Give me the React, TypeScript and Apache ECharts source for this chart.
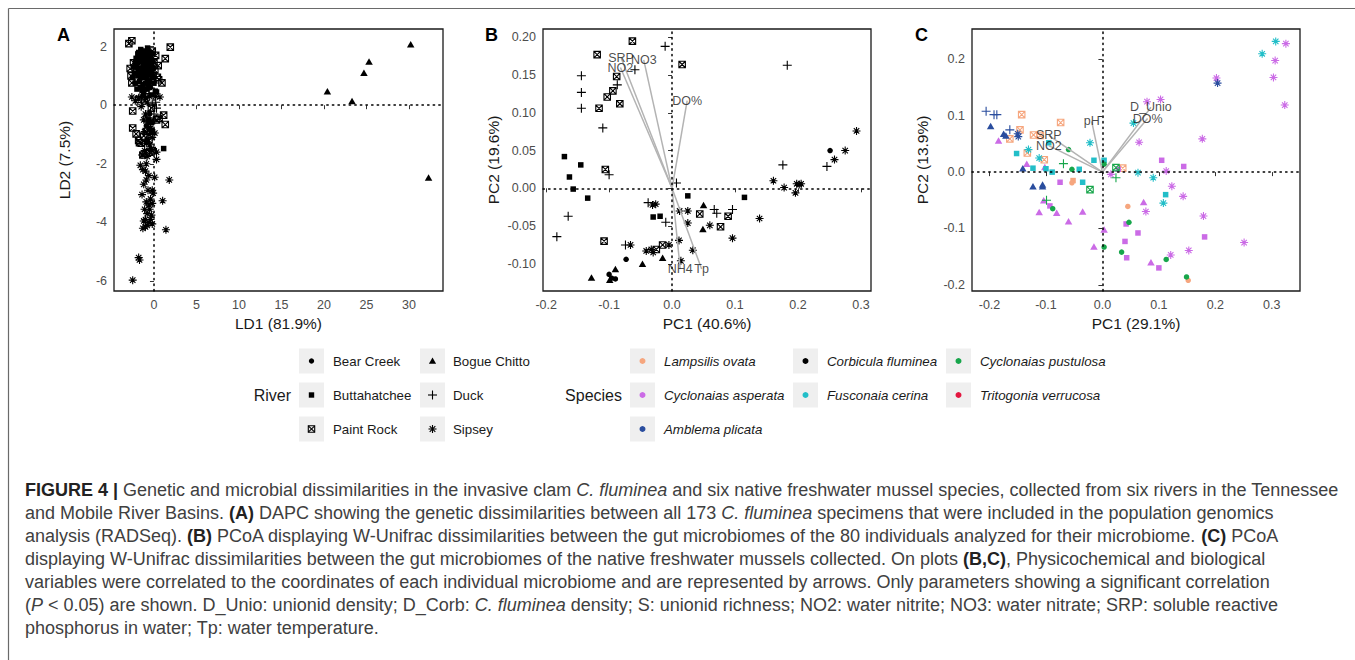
import React, { useEffect, useRef } from "react";
import * as echarts from "echarts";

const FONT = "'Liberation Sans', Arial, Helvetica, sans-serif";
const CAP_FONT = "'Liberation Sans', Arial, Helvetica, sans-serif";

// ---------- legend / categories ----------
const riverNames = ["Bear Creek", "Bogue Chitto", "Buttahatchee", "Duck", "Paint Rock", "Sipsey"];
const riverShapes = ["circle", "triangle", "square", "plus", "boxX", "asterisk"];
const speciesNames = [
  "Lampsilis ovata",
  "Cyclonaias asperata",
  "Amblema plicata",
  "Corbicula fluminea",
  "Fusconaia cerina",
  "Cyclonaias pustulosa",
  "Tritogonia verrucosa",
];
const speciesColors = ["#F6A67E", "#CB6BE6", "#2A4D9E", "#000000", "#22BEC8", "#17A64B", "#E3163F"];

// ---------- panel A (DAPC) ----------
const aXTicks = [0, 5, 10, 15, 20, 25, 30];
const aYTicks = [-6, -4, -2, 0, 2];
const aBearCreek = [[-1.1, 1.4], [-0.8, 1.1], [-1.6, 0.9], [-0.4, 0.6], [-1.2, 0.4], [-0.5, -0.3], [-0.9, -0.7]];
const aBogueChitto = [[20.4, 0.48], [23.3, 0.14], [24.7, 1.11], [25.3, 1.49], [30.2, 2.08], [32.3, -2.47]];
const aButtahatchee = [
  [-1.8, 1.8], [-1.5, 1.85], [-1.2, 1.8], [-0.9, 1.85], [-0.6, 1.8], [-1.7, 1.5], [-1.4, 1.55], [-1.1, 1.6],
  [-0.8, 1.5], [-0.5, 1.55], [-0.3, 1.4], [-2.0, 1.3], [-1.6, 1.25], [-1.3, 1.3], [-1.0, 1.2], [-0.7, 1.3],
  [-0.4, 1.2], [-2.3, 1.1], [-1.9, 1.0], [-1.5, 1.05], [-1.2, 0.95], [-0.9, 1.0], [-0.6, 1.05], [-0.2, 0.95],
  [-2.2, 0.75], [-1.7, 0.8], [-1.3, 0.7], [-1.0, 0.75], [-0.5, 0.8], [-1.4, 0.5], [-0.8, 0.55], [0.3, 0.45],
  [0.16, 0.48], [-0.3, 0.35], [-0.6, -0.5], [-0.3, -0.6], [-0.5, -0.8], [-0.2, -0.9], [-0.8, -1.2], [1.14, -1.48],
  [-1.0, 1.65], [-0.7, 1.7], [-1.25, 1.45], [-0.95, 1.35], [-2.1, 1.6], [-1.9, 1.75], [-1.6, 1.65], [-1.3, 1.7],
  [-0.4, 1.65], [-0.2, 1.75], [-2.4, 1.3], [-1.8, 1.15], [-1.1, 1.05], [-0.8, 0.85], [-0.3, 1.05], [-2.0, 0.55],
  [-1.6, 0.6], [-1.1, 0.55], [-0.6, 0.65], [0.0, 0.75], [-1.9, 1.45], [-0.5, 1.35], [-1.45, 1.15], [-2.5, 0.95],
  [-0.1, 1.25], [-1.2, 0.35], [-1.55, 1.9], [-0.75, 1.95], [-2.2, 1.45], [-0.15, 1.5],
];
const aDuck = [[-0.4, -0.2], [0.0, -0.3], [-0.2, 0.05], [0.3, -0.1], [-0.6, 0.4], [0.1, -0.5], [-0.9, -0.4], [0.2, 0.1]];
const aPaintRock = [
  [-2.95, 2.1], [-2.6, 2.2], [1.92, 1.98], [1.33, 1.59], [-2.6, 0.76], [0.55, 0.87], [0.94, 0.76], [-2.8, 1.25],
  [-2.4, 1.45], [0.2, 1.7], [0.0, 1.45], [0.1, 1.2], [-0.1, 1.0], [0.4, 0.95], [-2.5, -0.2], [1.14, -0.34],
  [1.33, -0.66], [-2.5, -0.78], [-2.1, -0.98], [-1.8, -1.2], [-1.5, -1.3], [-1.2, -1.05], [-0.4, -0.55], [0.6, -0.45],
  [-0.6, -1.2], [-1.3, -1.7], [-0.9, -1.65], [-0.5, -1.6], [-0.2, -1.55], [-1.7, -1.28], [0.3, -0.5], [-0.3, -0.1],
  [-1.1, 0.15], [-1.8, 0.2], [-0.2, 1.85], [-2.7, 1.0], [0.5, 1.35], [-0.9, -0.9],
];
const aSipsey = [
  [-2.6, 0.28], [-2.2, 0.15], [-1.8, 0.25], [-1.4, 0.3], [-1.0, 0.25], [-0.5, 0.3], [0.2, 0.3], [0.7, 0.28],
  [-0.8, 0.1], [-1.5, -0.05], [-1.0, -0.3], [-0.7, -0.6], [-1.1, -0.9], [-0.6, -1.0], [-0.2, -1.1], [0.1, -0.95],
  [-1.4, -1.7], [-0.8, -1.75], [-0.3, -1.5], [0.3, -1.85], [-1.6, -2.05], [-1.3, -2.2], [-1.0, -2.25], [0.08, -2.46],
  [1.8, -2.55], [-1.2, -2.7], [-1.4, -3.05], [-0.2, -2.9], [-0.1, -3.0], [-0.4, -3.2], [-0.2, -3.35], [1.02, -3.26],
  [-0.5, -3.55], [-0.8, -3.7], [-0.3, -3.75], [-1.0, -3.9], [-0.6, -4.0], [-0.2, -4.05], [-1.3, -4.2], [-1.0, -4.15],
  [1.41, -4.25], [-1.8, -5.2], [-1.7, -5.28], [-2.5, -5.97], [-0.9, -2.0], [0.3, -1.6], [-1.2, -0.5], [-0.4, -0.8],
  [-0.9, -1.3], [-0.5, -1.35], [-1.1, -1.55], [-0.6, -2.4], [-0.9, -2.55], [-0.7, -2.9], [-0.9, -3.3], [-0.6, -3.4],
  [-1.1, -3.55], [-0.4, -3.9], [-1.2, -3.95], [-0.8, -4.1],
];

// ---------- panel B (PCoA, C. fluminea) ----------
const bXTicks = [-0.2, -0.1, 0.0, 0.1, 0.2, 0.3];
const bYTicks = [-0.1, -0.05, 0.0, 0.05, 0.1, 0.15, 0.2];
const bBearCreek = [[-0.073, -0.094], [-0.1, -0.114], [-0.096, -0.119], [-0.09, -0.12], [0.251, 0.05]];
const bBogueChitto = [[-0.128, -0.118], [-0.099, -0.121], [-0.09, -0.107], [-0.047, -0.1], [-0.015, -0.092], [0.05, -0.022], [0.049, -0.054]];
const bButtahatchee = [[-0.171, 0.042], [-0.145, 0.031], [-0.163, 0.015], [-0.157, -0.001], [-0.134, -0.013], [-0.03, -0.038], [-0.019, -0.037], [0.025, -0.01], [0.115, -0.012]];
const bDuck = [
  [-0.011, 0.188], [0.183, 0.163], [-0.059, 0.157], [-0.087, 0.137], [-0.144, 0.149], [-0.144, 0.127], [-0.144, 0.106],
  [-0.11, 0.08], [-0.1, 0.018], [-0.165, -0.037], [-0.183, -0.064], [0.007, 0.007], [-0.038, -0.019], [-0.01, -0.045],
  [0.067, -0.028], [0.071, -0.033], [0.096, -0.028], [0.176, 0.031], [0.246, 0.029], [-0.074, -0.075],
];
const bPaintRock = [
  [-0.063, 0.195], [-0.119, 0.177], [0.016, 0.164], [-0.088, 0.148], [-0.094, 0.129], [-0.103, 0.121], [-0.083, 0.112],
  [-0.116, 0.106], [-0.106, 0.025], [-0.108, -0.07], [-0.025, -0.081], [-0.015, -0.075], [0.044, -0.034], [0.077, -0.051], [0.089, -0.037],
];
const bSipsey = [
  [-0.026, -0.021], [-0.031, -0.022], [0.012, -0.03], [0.025, -0.03], [0.025, -0.046], [0.06, -0.049], [0.096, -0.066],
  [0.139, -0.04], [0.161, 0.01], [0.178, 0.001], [0.196, -0.006], [0.198, 0.006], [0.202, 0.005], [0.205, 0.006],
  [0.258, 0.038], [0.275, 0.05], [0.293, 0.076], [-0.066, -0.075], [-0.041, -0.083], [-0.03, -0.085], [-0.033, -0.081],
  [-0.005, -0.075], [0.011, -0.069], [0.033, -0.082], [0.014, -0.096],
];
const bVectors = [
  { name: "SRP", x: -0.081, y: 0.173 },
  { name: "NO3", x: -0.045, y: 0.17 },
  { name: "NO2", x: -0.082, y: 0.16 },
  { name: "DO%", x: 0.024, y: 0.116 },
  { name: "NH4", x: 0.013, y: -0.107 },
  { name: "Tp", x: 0.047, y: -0.107 },
];

// ---------- panel C (PCoA, native mussels) ----------
const cXTicks = [-0.2, -0.1, 0.0, 0.1, 0.2, 0.3];
const cYTicks = [-0.2, -0.1, 0.0, 0.1, 0.2];
const cLampsilis = [
  [-0.143, 0.102, "boxX"], [-0.074, 0.088, "boxX"], [-0.146, 0.075, "boxX"], [-0.122, 0.066, "boxX"], [-0.11, 0.065, "boxX"],
  [-0.164, 0.059, "boxX"], [-0.133, 0.034, "boxX"], [-0.103, 0.022, "boxX"], [0.036, 0.007, "boxX"], [-0.052, -0.015, "square"],
  [-0.054, -0.019, "circle"], [0.045, -0.061, "circle"], [0.152, -0.192, "circle"],
];
const cAsperata = [
  [-0.184, 0.056, "triangle"], [-0.134, 0.015, "triangle"], [-0.102, 0.009, "triangle"], [-0.104, -0.05, "triangle"],
  [-0.093, -0.06, "square"], [-0.112, -0.071, "triangle"], [-0.081, -0.072, "triangle"], [-0.06, -0.087, "triangle"],
  [-0.035, -0.07, "triangle"], [-0.075, -0.018, "square"], [0.003, -0.102, "triangle"], [-0.015, -0.132, "triangle"],
  [0.042, -0.092, "square"], [0.04, -0.123, "square"], [0.043, -0.152, "square"], [0.063, -0.108, "square"],
  [0.073, -0.053, "triangle"], [0.086, -0.16, "triangle"], [0.1, -0.17, "square"], [0.105, 0.021, "square"],
  [0.144, 0.01, "square"], [0.181, -0.115, "square"], [0.028, 0.005, "square"], [0.015, -0.004, "asterisk"],
  [0.079, 0.125, "asterisk"], [0.103, 0.129, "asterisk"], [0.065, 0.053, "asterisk"], [0.113, 0.002, "asterisk"],
  [0.123, -0.025, "asterisk"], [0.143, -0.043, "asterisk"], [0.077, -0.07, "asterisk"], [0.179, -0.078, "asterisk"],
  [0.121, -0.147, "asterisk"], [0.153, -0.139, "asterisk"], [0.251, -0.125, "asterisk"], [0.177, 0.059, "asterisk"],
  [0.202, 0.167, "asterisk"], [0.325, 0.228, "asterisk"], [0.306, 0.198, "asterisk"], [0.303, 0.168, "asterisk"],
  [0.323, 0.119, "asterisk"],
];
const cAmblema = [
  [-0.206, 0.108, "plus"], [-0.192, 0.102, "plus"], [-0.187, 0.102, "plus"], [-0.164, 0.075, "plus"],
  [-0.198, 0.082, "triangle"], [-0.175, 0.068, "triangle"], [-0.171, 0.065, "triangle"], [-0.15, 0.068, "asterisk"],
  [-0.149, 0.063, "asterisk"], [-0.141, 0.007, "triangle"], [-0.123, -0.025, "triangle"], [-0.106, -0.022, "triangle"],
  [-0.106, -0.025, "triangle"], [0.204, 0.158, "asterisk"],
];
const cFusconaia = [
  [-0.152, 0.033, "square"], [-0.123, 0.007, "square"], [-0.1, 0.006, "square"], [-0.089, 0.0, "square"],
  [-0.041, 0.005, "square"], [-0.035, -0.018, "square"], [-0.015, 0.021, "square"], [0.003, 0.021, "square"],
  [0.112, -0.04, "square"], [-0.095, 0.052, "square"], [-0.131, 0.04, "asterisk"], [-0.112, 0.025, "asterisk"],
  [-0.022, 0.052, "asterisk"], [0.055, 0.087, "asterisk"], [0.063, -0.001, "asterisk"], [0.09, -0.01, "asterisk"],
  [0.108, -0.055, "asterisk"], [0.283, 0.21, "asterisk"], [0.307, 0.232, "asterisk"],
];
const cPustulosa = [
  [-0.06, 0.04, "circle"], [-0.069, 0.015, "plus"], [-0.054, 0.005, "circle"], [-0.022, -0.031, "boxX"],
  [0.024, 0.008, "boxX"], [0.024, -0.01, "plus"], [0.003, 0.014, "circle"], [-0.099, -0.05, "plus"],
  [-0.088, -0.065, "circle"], [0.003, -0.133, "circle"], [0.034, -0.142, "circle"], [0.047, -0.089, "circle"],
  [0.113, -0.155, "circle"], [0.149, -0.186, "circle"],
];
const cVectors = [
  { name: "pH", x: -0.019, y: 0.09 },
  { name: "D_Unio", x: 0.086, y: 0.115 },
  { name: "DO%", x: 0.08, y: 0.095 },
  { name: "SRP", x: -0.095, y: 0.065 },
  { name: "NO2", x: -0.095, y: 0.047 },
];

// ---------- caption ----------
const captionLines = [
  "{b|FIGURE 4 |} Genetic and microbial dissimilarities in the invasive clam {i|C. fluminea} and six native freshwater mussel species, collected from six rivers in the Tennessee",
  "and Mobile River Basins. {b|(A)} DAPC showing the genetic dissimilarities between all 173 {i|C. fluminea} specimens that were included in the population genomics",
  "analysis (RADSeq). {b|(B)} PCoA displaying W-Unifrac dissimilarities between the gut microbiomes of the 80 individuals analyzed for their microbiome. {b|(C)} PCoA",
  "displaying W-Unifrac dissimilarities between the gut microbiomes of the native freshwater mussels collected. On plots {b|(B,C)}, Physicochemical and biological",
  "variables were correlated to the coordinates of each individual microbiome and are represented by arrows. Only parameters showing a significant correlation",
  "({i|P} < 0.05) are shown. D_Unio: unionid density; D_Corb: {i|C. fluminea} density; S: unionid richness; NO2: water nitrite; NO3: water nitrate; SRP: soluble reactive",
  "phosphorus in water; Tp: water temperature.",
];

// ---------- symbols ----------
const SHAPES: any = {
  circle: { symbol: "circle", size: 5.5, filled: true },
  triangle: { symbol: "triangle", size: [7.5, 6.5], filled: true },
  square: { symbol: "rect", size: 5.5, filled: true },
  plus: { symbol: "path://M5 0L5 10M0 5L10 5", size: 9, filled: false },
  boxX: { symbol: "path://M0 0L10 0L10 10L0 10ZM0 0L10 10M10 0L0 10", size: 6.5, filled: false },
  asterisk: { symbol: "path://M5 0L5 10M0 5L10 5M1.6 1.6L8.4 8.4M1.6 8.4L8.4 1.6", size: 8, filled: false },
};

function itemFor(shape: string, color: string) {
  return SHAPES[shape].filled
    ? { color, borderWidth: 0, opacity: 1 }
    : { color: "rgba(0,0,0,0)", borderColor: color, borderWidth: 1.1, opacity: 1 };
}

function riverSeries(g: number, arr: number[][], shape: string) {
  const s = SHAPES[shape];
  return {
    type: "scatter",
    xAxisIndex: g,
    yAxisIndex: g,
    data: arr,
    symbol: s.symbol,
    symbolSize: s.size,
    itemStyle: itemFor(shape, "#000"),
    silent: true,
    z: 3,
  };
}

function speciesSeries(g: number, arr: any[], color: string) {
  return {
    type: "scatter",
    xAxisIndex: g,
    yAxisIndex: g,
    data: arr.map((p) => ({
      value: [p[0], p[1]],
      symbol: SHAPES[p[2]].symbol,
      symbolSize: SHAPES[p[2]].size,
      itemStyle: itemFor(p[2], color),
    })),
    silent: true,
    z: 3,
  };
}

function zeroLines(g: number) {
  return {
    type: "scatter",
    xAxisIndex: g,
    yAxisIndex: g,
    data: [],
    silent: true,
    z: 2,
    markLine: {
      silent: true,
      symbol: ["none", "none"],
      label: { show: false },
      lineStyle: { color: "#000", type: [1.4, 4.2], width: 1.5, cap: "round" },
      data: [{ xAxis: 0 }, { yAxis: 0 }],
      animation: false,
    },
  };
}

function vectorSeries(g: number, vecs: any[]) {
  return [
    {
      type: "lines",
      coordinateSystem: "cartesian2d",
      xAxisIndex: g,
      yAxisIndex: g,
      polyline: false,
      data: vecs.map((v) => ({ coords: [[0, 0], [v.x, v.y]] })),
      lineStyle: { color: "#b3b3b3", width: 1.5, opacity: 1, curveness: 0 },
      symbol: ["none", "none"],
      silent: true,
      z: 4,
    },
    {
      type: "scatter",
      xAxisIndex: g,
      yAxisIndex: g,
      data: vecs.map((v) => ({ name: v.name, value: [v.x, v.y] })),
      symbolSize: 1,
      itemStyle: { color: "rgba(0,0,0,0)" },
      label: {
        show: true,
        position: "inside",
        formatter: "{b}",
        color: "#1a1a1a",
        fontSize: 12.5,
        fontFamily: FONT,
      },
      silent: true,
      z: 5,
    },
  ];
}

function xAxisCfg(g: number, min: number, max: number, ticks: number[], fmt: (v: number) => string, name: string) {
  return {
    type: "value",
    gridIndex: g,
    min,
    max,
    name,
    nameLocation: "middle",
    nameGap: 24,
    nameTextStyle: { fontSize: 15.5, color: "#1a1a1a", fontFamily: FONT },
    axisLine: { show: false },
    axisTick: { show: true, customValues: ticks, length: 4, lineStyle: { color: "#333", width: 1 } },
    axisLabel: { customValues: ticks, formatter: fmt, color: "#4d4d4d", fontSize: 12.5, fontFamily: FONT, margin: 7 },
    splitLine: { show: false },
  };
}

function yAxisCfg(g: number, min: number, max: number, ticks: number[], fmt: (v: number) => string, name: string) {
  return {
    type: "value",
    gridIndex: g,
    min,
    max,
    name,
    nameLocation: "middle",
    nameGap: 42,
    nameTextStyle: { fontSize: 15.5, color: "#1a1a1a", fontFamily: FONT },
    axisLine: { show: false },
    axisTick: { show: true, customValues: ticks, length: 4, lineStyle: { color: "#333", width: 1 } },
    axisLabel: { customValues: ticks, formatter: fmt, color: "#4d4d4d", fontSize: 12.5, fontFamily: FONT, margin: 7 },
    splitLine: { show: false },
  };
}

function keySymbol(shape: string, cx: number, cy: number, color: string): any[] {
  const st = { stroke: color, lineWidth: 1.1 };
  switch (shape) {
    case "circle":
      return [{ type: "circle", shape: { cx, cy, r: 2.7 }, style: { fill: color } }];
    case "triangle":
      return [{ type: "polygon", shape: { points: [[cx, cy - 3.4], [cx + 3.6, cy + 2.8], [cx - 3.6, cy + 2.8]] }, style: { fill: color } }];
    case "square":
      return [{ type: "rect", shape: { x: cx - 2.7, y: cy - 2.7, width: 5.4, height: 5.4 }, style: { fill: color } }];
    case "plus":
      return [
        { type: "line", shape: { x1: cx - 4.5, y1: cy, x2: cx + 4.5, y2: cy }, style: st },
        { type: "line", shape: { x1: cx, y1: cy - 4.5, x2: cx, y2: cy + 4.5 }, style: st },
      ];
    case "boxX":
      return [
        { type: "rect", shape: { x: cx - 3.2, y: cy - 3.2, width: 6.4, height: 6.4 }, style: { ...st, fill: "none" } },
        { type: "line", shape: { x1: cx - 3.2, y1: cy - 3.2, x2: cx + 3.2, y2: cy + 3.2 }, style: st },
        { type: "line", shape: { x1: cx + 3.2, y1: cy - 3.2, x2: cx - 3.2, y2: cy + 3.2 }, style: st },
      ];
    default:
      return [
        { type: "line", shape: { x1: cx - 4, y1: cy, x2: cx + 4, y2: cy }, style: st },
        { type: "line", shape: { x1: cx, y1: cy - 4, x2: cx, y2: cy + 4 }, style: st },
        { type: "line", shape: { x1: cx - 2.8, y1: cy - 2.8, x2: cx + 2.8, y2: cy + 2.8 }, style: st },
        { type: "line", shape: { x1: cx + 2.8, y1: cy - 2.8, x2: cx - 2.8, y2: cy + 2.8 }, style: st },
      ];
  }
}

function buildGraphics() {
  const els: any[] = [];
  // figure frame (top + left)
  els.push({ type: "line", shape: { x1: 8.5, y1: 8.5, x2: 1355, y2: 8.5 }, style: { stroke: "#6a6a6a", lineWidth: 1.2 } });
  els.push({ type: "line", shape: { x1: 8.5, y1: 8.5, x2: 8.5, y2: 660 }, style: { stroke: "#6a6a6a", lineWidth: 1.2 } });
  // panel letters
  [["A", 57], ["B", 485], ["C", 915]].forEach(([t, x]) => {
    els.push({
      type: "text",
      x: x as number,
      y: 35,
      style: { text: t as string, fontSize: 18, fontWeight: "bold", fontFamily: FONT, fill: "#000", verticalAlign: "middle", align: "left" },
    });
  });
  const rowY = [361, 395, 429];
  const textStyle = { fontSize: 13.3, fontFamily: FONT, fill: "#1a1a1a", verticalAlign: "middle", align: "left" };
  // River legend
  els.push({ type: "text", x: 291, y: 395, style: { text: "River", fontSize: 16, fontFamily: FONT, fill: "#1a1a1a", verticalAlign: "middle", align: "right" } });
  const rKeyX = [299, 420];
  const rLabX = [333, 453];
  riverNames.forEach((n, i) => {
    const row = Math.floor(i / 2);
    const col = i % 2;
    const kx = rKeyX[col];
    const cy = rowY[row];
    els.push({ type: "rect", shape: { x: kx, y: cy - 12.5, width: 25, height: 25 }, style: { fill: "#efefef" } });
    keySymbol(riverShapes[i], kx + 12.5, cy, "#000").forEach((e) => els.push(e));
    els.push({ type: "text", x: rLabX[col], y: cy, style: { ...textStyle, text: n } });
  });
  // Species legend (column, row) of each entry
  els.push({ type: "text", x: 622, y: 395, style: { text: "Species", fontSize: 16, fontFamily: FONT, fill: "#1a1a1a", verticalAlign: "middle", align: "right" } });
  const sKeyX = [630, 793, 946];
  const sLabX = [664, 827, 980];
  const sCol = [0, 0, 0, 1, 1, 2, 2];
  const sRow = [0, 1, 2, 0, 1, 0, 1];
  speciesNames.forEach((n, i) => {
    const col = sCol[i];
    const row = sRow[i];
    const kx = sKeyX[col];
    const cy = rowY[row];
    els.push({ type: "rect", shape: { x: kx, y: cy - 12.5, width: 25, height: 25 }, style: { fill: "#efefef" } });
    els.push({ type: "circle", shape: { cx: kx + 12.5, cy, r: 3 }, style: { fill: speciesColors[i] } });
    els.push({ type: "text", x: sLabX[col], y: cy, style: { ...textStyle, text: n, fontStyle: "italic" } });
  });
  // caption
  const capFs = 18;
  const capFill = "#404040";
  captionLines.forEach((line, k) => {
    els.push({
      type: "text",
      x: 25,
      y: 490 + k * 23,
      style: {
        text: line,
        fontSize: capFs,
        fontFamily: CAP_FONT,
        fill: capFill,
        verticalAlign: "middle",
        align: "left",
        rich: {
          b: { fontSize: capFs, fontFamily: CAP_FONT, fill: "#222", fontWeight: "bold" },
          i: { fontSize: capFs, fontFamily: CAP_FONT, fill: capFill, fontStyle: "italic" },
        },
      },
    });
  });
  return els;
}

function buildOption() {
  const gridBase = { show: true, borderColor: "#1a1a1a", borderWidth: 1.3, backgroundColor: "#fff", containLabel: false, outerBoundsMode: "none" };
  const series: any[] = [];
  series.push(zeroLines(0), zeroLines(1), zeroLines(2));
  // Panel A
  const aData = [aBearCreek, aBogueChitto, aButtahatchee, aDuck, aPaintRock, aSipsey];
  [5, 4, 3, 0, 2, 1].forEach((i) => series.push(riverSeries(0, aData[i], riverShapes[i])));
  // Panel B
  const bData = [bBearCreek, bBogueChitto, bButtahatchee, bDuck, bPaintRock, bSipsey];
  [5, 4, 3, 2, 1, 0].forEach((i) => series.push(riverSeries(1, bData[i], riverShapes[i])));
  vectorSeries(1, bVectors).forEach((s) => series.push(s));
  // Panel C
  const cData = [cLampsilis, cAsperata, cAmblema, cFusconaia, cPustulosa];
  const cColorIdx = [0, 1, 2, 4, 5];
  cData.forEach((arr, k) => series.push(speciesSeries(2, arr, speciesColors[cColorIdx[k]])));
  vectorSeries(2, cVectors).forEach((s) => series.push(s));

  const f0 = (v: number) => String(Math.round(v));
  const f1 = (v: number) => (Math.abs(v) < 1e-9 ? 0 : v).toFixed(1);
  const f2 = (v: number) => (Math.abs(v) < 1e-9 ? 0 : v).toFixed(2);

  return {
    animation: false,
    backgroundColor: "#fff",
    textStyle: { fontFamily: FONT },
    grid: [
      { ...gridBase, left: 114, top: 29, width: 329, height: 262 },
      { ...gridBase, left: 543, top: 29, width: 328, height: 262 },
      { ...gridBase, left: 972, top: 29, width: 328, height: 262 },
    ],
    xAxis: [
      xAxisCfg(0, -4.7, 34.0, aXTicks, f0, "LD1 (81.9%)"),
      xAxisCfg(1, -0.205, 0.316, bXTicks, f1, "PC1 (40.6%)"),
      xAxisCfg(2, -0.231, 0.35, cXTicks, f1, "PC1 (29.1%)"),
    ],
    yAxis: [
      yAxisCfg(0, -6.34, 2.6, aYTicks, f0, "LD2 (7.5%)"),
      yAxisCfg(1, -0.136, 0.211, bYTicks, f2, "PC2 (19.6%)"),
      yAxisCfg(2, -0.211, 0.254, cYTicks, f1, "PC2 (13.9%)"),
    ],
    series,
    graphic: { elements: buildGraphics() },
  };
}

export default function App() {
  const ref = useRef<HTMLDivElement>(null);
  useEffect(() => {
    document.body.style.margin = "0";
    const chart = echarts.init(ref.current as HTMLDivElement, undefined, { renderer: "svg", width: 1355, height: 660 });
    chart.setOption(buildOption() as any);
    return () => chart.dispose();
  }, []);
  return <div ref={ref} style={{ position: "absolute", left: 0, top: 0, width: 1355, height: 660, background: "#fff" }} />;
}
